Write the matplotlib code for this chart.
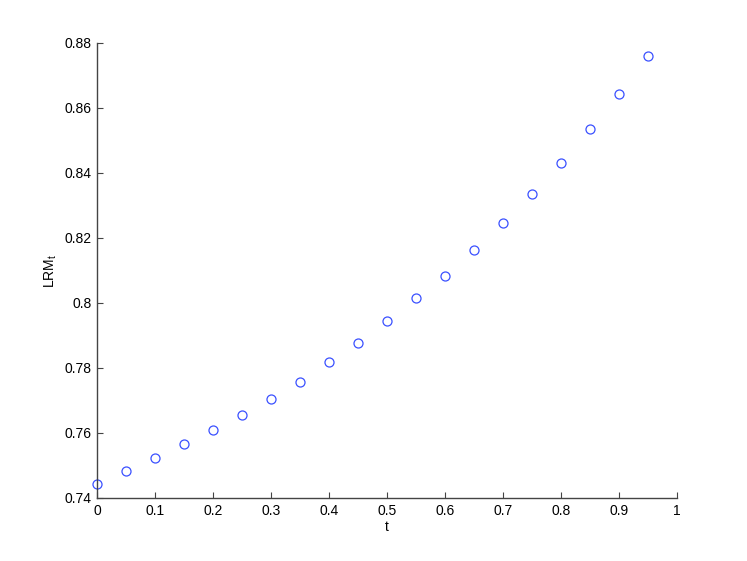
import matplotlib
matplotlib.use('Agg')
import matplotlib.pyplot as plt

plt.rcParams['font.family'] = ['Liberation Sans', 'DejaVu Sans']

t = [0.0, 0.05, 0.1, 0.15, 0.2, 0.25, 0.3, 0.35, 0.4, 0.45,
     0.5, 0.55, 0.6, 0.65, 0.7, 0.75, 0.8, 0.85, 0.9, 0.95]
lrm = [0.7443, 0.7483, 0.7523, 0.7565, 0.7609, 0.7655, 0.7706, 0.7758, 0.7817, 0.7878,
       0.7945, 0.8014, 0.8084, 0.8163, 0.8246, 0.8335, 0.8431, 0.8535, 0.8643, 0.8760]
xticks = [0, 0.1, 0.2, 0.3, 0.4, 0.5, 0.6, 0.7, 0.8, 0.9, 1]
xticklabels = ['0', '0.1', '0.2', '0.3', '0.4', '0.5', '0.6', '0.7', '0.8', '0.9', '1']
yticks = [0.74, 0.76, 0.78, 0.8, 0.82, 0.84, 0.86, 0.88]
yticklabels = ['0.74', '0.76', '0.78', '0.8', '0.82', '0.84', '0.86', '0.88']

fig = plt.figure(figsize=(7.47, 5.61), dpi=100)
ax = fig.add_axes([0.1299, 0.1123, 0.7764, 0.8111])

ax.plot(t, lrm, 'o', mfc='none', mec='#3a50ff', ms=6.5, mew=0.9, clip_on=False)

ax.set_xlim(0, 1)
ax.set_ylim(0.74, 0.88)
ax.set_xticks(xticks)
ax.set_xticklabels(xticklabels)
ax.set_yticks(yticks)
ax.set_yticklabels(yticklabels)

ax.spines['top'].set_visible(False)
ax.spines['right'].set_visible(False)
for s in ['left', 'bottom']:
    ax.spines[s].set_color('#444444')
    ax.spines[s].set_linewidth(1.0)
ax.tick_params(direction='in', length=4, width=0.8, color='#444444', labelsize=10, pad=4)

ax.set_xlabel('t', fontsize=10, labelpad=2)
ax.set_ylabel('LRM$_\\mathregular{t}$', fontsize=10, labelpad=4)

fig.savefig('out.png', dpi=100)
